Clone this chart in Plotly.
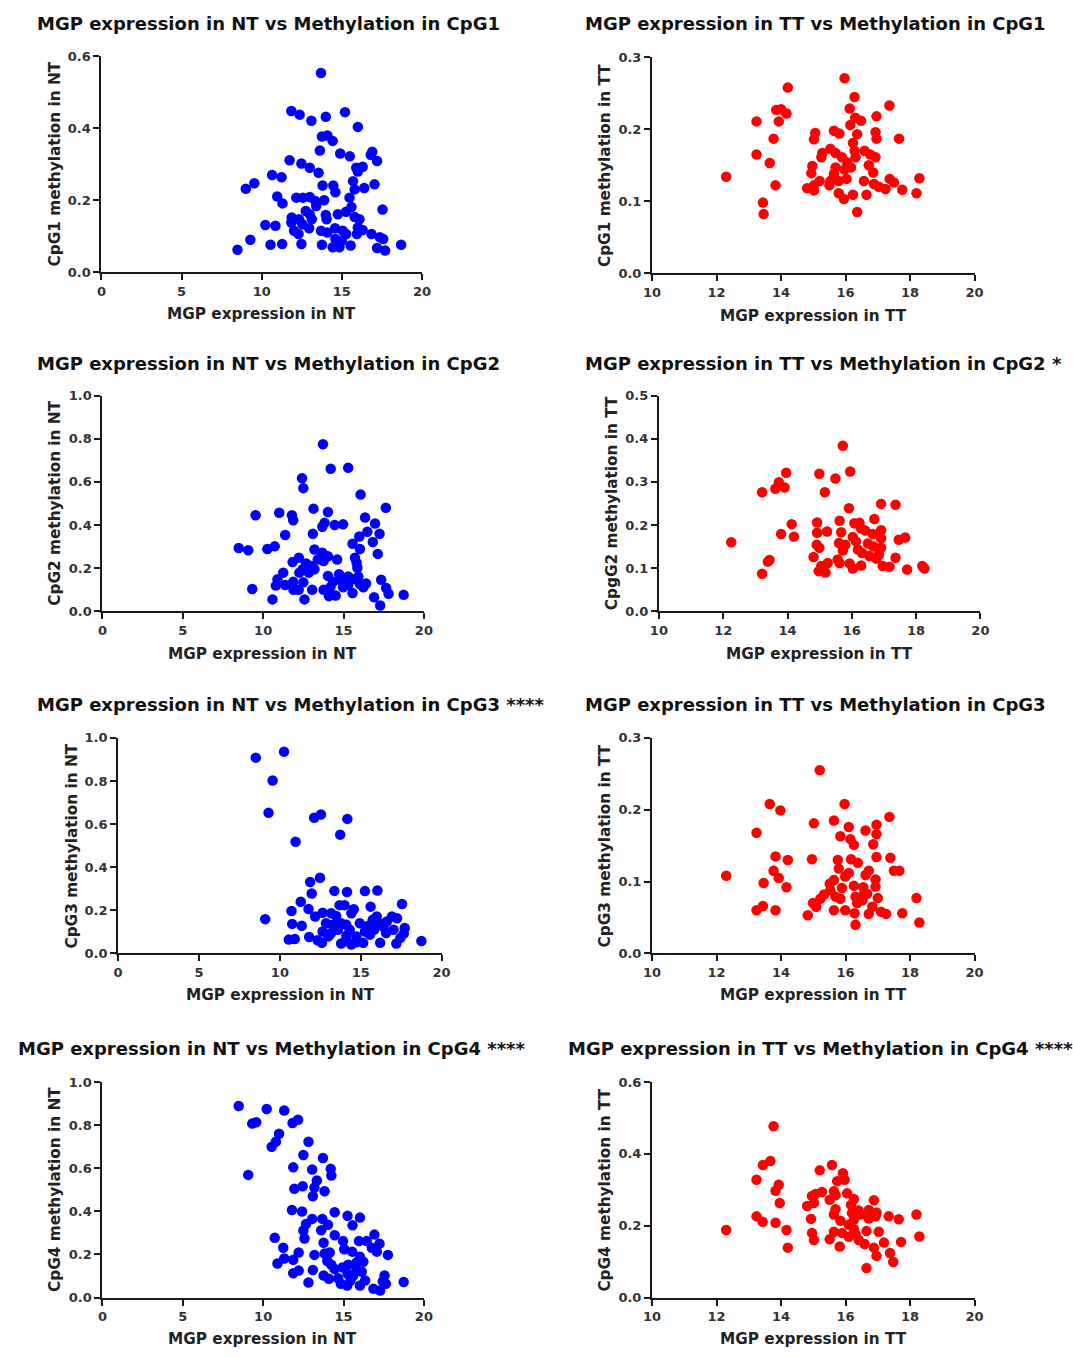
import plotly.graph_objects as go

W, H = 1073, 1357
BLUE = "#0000FF"
RED = "#FF0000"
FONT = "DejaVu Sans, Arial, sans-serif"

# ---------------- data ----------------
nt_cpg1_x = [13.70, 11.85, 12.37, 13.10, 14.00, 15.20, 16.00, 13.76, 14.10, 14.43, 13.63, 14.90, 15.50, 16.90,
             16.80, 17.20, 11.74, 12.48, 13.00, 13.55, 15.90, 16.30, 16.00, 10.65, 11.24, 9.01, 9.54, 13.80,
             14.47, 14.60, 15.70, 15.80, 16.40, 17.04, 10.97, 11.30, 12.16, 12.58, 13.00, 13.34, 13.90, 15.48,
             15.60, 13.40, 12.75, 13.00, 14.00, 14.05, 14.75, 15.27, 15.80, 16.10, 17.54, 11.87, 12.33, 12.54,
             13.13, 10.23, 10.86, 11.85, 12.02, 12.30, 12.96, 13.70, 14.10, 14.58, 15.06, 15.27, 16.00, 16.30,
             15.94, 16.85, 17.37, 17.58, 9.29, 8.49, 10.55, 11.28, 12.48, 13.76, 14.43, 14.85, 15.00, 15.55,
             17.20, 17.70, 18.70, 14.60]
nt_cpg1_y = [0.554, 0.448, 0.438, 0.421, 0.432, 0.445, 0.404, 0.377, 0.380, 0.365, 0.338, 0.330, 0.322, 0.335,
             0.326, 0.309, 0.311, 0.302, 0.290, 0.276, 0.290, 0.293, 0.280, 0.270, 0.264, 0.232, 0.247, 0.241,
             0.241, 0.222, 0.253, 0.230, 0.234, 0.244, 0.210, 0.191, 0.207, 0.207, 0.209, 0.198, 0.200, 0.207,
             0.181, 0.184, 0.170, 0.161, 0.159, 0.147, 0.161, 0.168, 0.153, 0.147, 0.174, 0.152, 0.147, 0.133,
             0.147, 0.131, 0.129, 0.138, 0.115, 0.106, 0.122, 0.115, 0.110, 0.122, 0.115, 0.106, 0.124, 0.117,
             0.106, 0.106, 0.097, 0.092, 0.090, 0.062, 0.076, 0.078, 0.078, 0.076, 0.069, 0.069, 0.087, 0.074,
             0.067, 0.060, 0.076, 0.092]

tt_cpg1_x = [12.30, 13.24, 13.24, 13.65, 13.44, 13.46, 13.77, 13.83, 13.85, 14.00, 13.93, 14.17, 14.21, 15.97,
             16.28, 17.36, 16.13, 16.30, 16.48, 16.96, 16.15, 15.64, 15.81, 16.36, 16.93, 16.96, 17.66, 15.06,
             15.02, 16.23, 15.28, 15.25, 15.53, 15.69, 15.89, 16.28, 16.59, 16.77, 16.93, 16.72, 16.31, 16.05,
             16.17, 15.97, 15.69, 15.64, 16.86, 14.97, 14.94, 15.53, 15.79, 16.03, 16.57, 15.20, 15.50, 15.02,
             14.81, 15.02, 16.88, 17.03, 17.24, 17.37, 17.50, 17.76, 18.29, 18.20, 15.79, 15.95, 16.23, 16.65,
             16.36]
tt_cpg1_y = [0.134, 0.211, 0.165, 0.153, 0.098, 0.082, 0.187, 0.122, 0.227, 0.228, 0.211, 0.222, 0.258, 0.271,
             0.245, 0.233, 0.229, 0.216, 0.212, 0.218, 0.206, 0.198, 0.194, 0.193, 0.196, 0.187, 0.187, 0.195,
             0.186, 0.181, 0.167, 0.161, 0.173, 0.167, 0.161, 0.170, 0.170, 0.165, 0.161, 0.150, 0.161, 0.154,
             0.147, 0.144, 0.147, 0.138, 0.140, 0.149, 0.139, 0.128, 0.128, 0.131, 0.128, 0.128, 0.122, 0.122,
             0.118, 0.115, 0.124, 0.120, 0.117, 0.131, 0.126, 0.116, 0.132, 0.111, 0.111, 0.103, 0.109, 0.109,
             0.085]

nt_cpg2_x = [13.72, 14.20, 15.29, 12.42, 12.50, 16.06, 9.53, 11.00, 11.79, 11.87, 13.13, 14.03, 17.63, 16.34,
             13.82, 13.68, 14.45, 14.97, 16.96, 16.48, 17.24, 13.09, 11.37, 15.98, 16.82, 15.56, 8.48, 9.07,
             10.26, 10.72, 13.19, 16.02, 17.13, 13.68, 14.03, 13.40, 13.76, 14.60, 15.71, 15.81, 12.22, 11.83,
             12.67, 12.98, 12.46, 12.25, 12.84, 13.19, 15.86, 11.25, 10.89, 14.03, 14.72, 15.29, 15.92, 14.35,
             14.87, 15.71, 17.34, 10.79, 11.37, 11.87, 12.50, 15.29, 16.02, 16.40, 9.32, 11.89, 12.21, 13.05,
             13.76, 14.18, 14.97, 15.56, 16.23, 17.65, 17.80, 18.74, 14.09, 14.51, 16.90, 10.58, 12.57, 17.28]
nt_cpg2_y = [0.775, 0.661, 0.666, 0.617, 0.571, 0.541, 0.445, 0.457, 0.445, 0.422, 0.476, 0.460, 0.480, 0.435,
             0.410, 0.392, 0.400, 0.403, 0.407, 0.369, 0.359, 0.359, 0.354, 0.347, 0.321, 0.313, 0.293, 0.283,
             0.289, 0.301, 0.286, 0.289, 0.266, 0.271, 0.255, 0.240, 0.233, 0.240, 0.248, 0.225, 0.248, 0.228,
             0.222, 0.210, 0.195, 0.179, 0.179, 0.195, 0.202, 0.179, 0.149, 0.164, 0.172, 0.161, 0.161, 0.137,
             0.141, 0.149, 0.146, 0.119, 0.122, 0.137, 0.134, 0.122, 0.126, 0.129, 0.103, 0.100, 0.100, 0.100,
             0.100, 0.111, 0.111, 0.085, 0.111, 0.108, 0.081, 0.076, 0.070, 0.073, 0.065, 0.055, 0.055, 0.027]

tt_cpg2_x = [15.72, 15.95, 13.96, 14.99, 15.49, 13.73, 13.91, 13.62, 13.21, 15.16, 16.91, 17.36, 15.91, 16.70,
             15.62, 14.92, 14.13, 16.08, 16.24, 16.29, 13.80, 14.20, 14.92, 15.23, 15.67, 16.03, 16.42, 16.65,
             16.91, 16.91, 17.66, 17.46, 12.25, 14.91, 14.99, 15.60, 15.80, 15.72, 16.13, 16.19, 16.50, 16.68,
             16.91, 16.32, 16.55, 16.76, 16.84, 13.44, 13.39, 14.81, 15.56, 15.62, 15.25, 15.93, 17.36, 16.29,
             16.03, 15.05, 14.97, 15.18, 13.21, 16.96, 17.17, 17.72, 18.19, 18.26]
tt_cpg2_y = [0.384, 0.324, 0.321, 0.319, 0.308, 0.299, 0.287, 0.284, 0.276, 0.276, 0.249, 0.247, 0.239, 0.214,
             0.210, 0.206, 0.202, 0.204, 0.205, 0.192, 0.179, 0.173, 0.182, 0.185, 0.183, 0.172, 0.187, 0.179,
             0.188, 0.169, 0.171, 0.166, 0.160, 0.154, 0.147, 0.158, 0.154, 0.141, 0.162, 0.143, 0.157, 0.150,
             0.147, 0.135, 0.128, 0.122, 0.131, 0.119, 0.115, 0.126, 0.120, 0.112, 0.112, 0.111, 0.124, 0.106,
             0.099, 0.105, 0.093, 0.090, 0.087, 0.105, 0.103, 0.097, 0.105, 0.099]

nt_cpg3_x = [8.51, 10.26, 9.55, 9.30, 12.12, 12.54, 14.17, 13.73, 10.97, 12.48, 11.87, 11.97, 13.37, 14.15,
             15.26, 16.03, 11.29, 10.72, 11.77, 13.69, 14.00, 14.57, 15.61, 17.55, 9.09, 10.76, 11.35, 12.18,
             12.64, 13.17, 13.48, 14.42, 15.99, 15.74, 16.93, 17.24, 12.85, 13.27, 13.79, 14.11, 14.94, 15.47,
             16.20, 16.61, 17.72, 12.64, 13.17, 13.58, 14.32, 15.26, 15.82, 16.41, 17.03, 13.00, 14.11, 14.73,
             15.57, 16.57, 17.66, 10.55, 10.92, 11.81, 12.33, 12.60, 13.79, 14.11, 14.42, 15.15, 16.20, 17.20,
             17.45, 18.75, 14.73]
nt_cpg3_y = [0.908, 0.936, 0.802, 0.652, 0.629, 0.644, 0.624, 0.551, 0.518, 0.351, 0.331, 0.278, 0.290, 0.285,
             0.289, 0.292, 0.240, 0.197, 0.206, 0.224, 0.224, 0.205, 0.217, 0.229, 0.159, 0.137, 0.128, 0.171,
             0.189, 0.186, 0.174, 0.186, 0.171, 0.156, 0.171, 0.163, 0.140, 0.133, 0.140, 0.133, 0.140, 0.128,
             0.137, 0.148, 0.118, 0.102, 0.095, 0.110, 0.110, 0.102, 0.110, 0.122, 0.110, 0.079, 0.082, 0.079,
             0.087, 0.095, 0.092, 0.064, 0.067, 0.076, 0.061, 0.049, 0.046, 0.061, 0.041, 0.049, 0.049, 0.046,
             0.072, 0.058, 0.052]

tt_cpg3_x = [15.20, 13.65, 15.97, 13.98, 17.36, 15.02, 15.64, 16.10, 16.96, 16.62, 13.24, 16.96, 15.84, 16.15,
             16.86, 16.26, 13.83, 14.21, 14.96, 15.76, 16.17, 16.38, 16.96, 17.39, 13.77, 15.79, 16.72, 17.50,
             17.67, 12.30, 13.93, 16.10, 15.99, 16.62, 16.93, 13.46, 14.17, 15.64, 15.51, 15.89, 16.26, 16.55,
             16.93, 15.33, 15.53, 15.69, 15.84, 16.31, 16.55, 16.67, 17.00, 18.20, 15.22, 14.99, 15.09, 16.36,
             16.52, 16.83, 13.44, 13.24, 13.83, 15.64, 15.99, 16.28, 16.72, 17.10, 17.26, 17.76, 14.83, 16.31,
             18.29]
tt_cpg3_y = [0.255, 0.208, 0.208, 0.199, 0.190, 0.181, 0.185, 0.176, 0.179, 0.171, 0.168, 0.166, 0.163, 0.159,
             0.152, 0.151, 0.135, 0.130, 0.131, 0.130, 0.131, 0.126, 0.134, 0.133, 0.115, 0.118, 0.115, 0.115,
             0.115, 0.108, 0.105, 0.112, 0.107, 0.109, 0.103, 0.098, 0.092, 0.102, 0.097, 0.091, 0.094, 0.092,
             0.093, 0.082, 0.088, 0.079, 0.076, 0.079, 0.081, 0.083, 0.077, 0.077, 0.076, 0.070, 0.065, 0.070,
             0.074, 0.065, 0.066, 0.060, 0.060, 0.060, 0.060, 0.056, 0.055, 0.058, 0.055, 0.056, 0.053, 0.040,
             0.043]

nt_cpg4_x = [8.48, 10.22, 11.31, 9.32, 9.57, 11.83, 12.17, 10.99, 10.79, 10.53, 12.82, 12.50, 13.72, 9.07,
             11.87, 13.05, 14.20, 14.24, 13.34, 13.19, 11.94, 12.46, 13.82, 13.09, 11.79, 12.42, 14.45, 15.25,
             16.02, 13.05, 13.68, 12.67, 14.03, 15.56, 12.50, 13.61, 14.45, 16.92, 12.57, 10.72, 13.76, 14.97,
             15.96, 16.44, 17.24, 16.76, 17.07, 11.25, 15.04, 15.54, 17.76, 12.21, 13.19, 13.82, 14.14, 11.31,
             11.87, 13.99, 16.02, 16.23, 10.89, 14.24, 15.29, 15.81, 14.45, 14.93, 15.81, 16.13, 13.09, 12.21,
             11.87, 13.76, 15.25, 15.60, 17.55, 14.09, 14.66, 15.43, 16.34, 17.44, 17.63, 12.82, 14.83, 15.23,
             16.02, 16.86, 17.28, 18.74]
nt_cpg4_y = [0.889, 0.875, 0.868, 0.807, 0.813, 0.810, 0.825, 0.760, 0.723, 0.700, 0.723, 0.661, 0.647, 0.569,
             0.604, 0.594, 0.597, 0.566, 0.543, 0.510, 0.505, 0.516, 0.493, 0.470, 0.406, 0.399, 0.396, 0.379,
             0.371, 0.365, 0.365, 0.341, 0.338, 0.335, 0.311, 0.312, 0.289, 0.292, 0.274, 0.277, 0.254, 0.262,
             0.262, 0.262, 0.250, 0.231, 0.213, 0.231, 0.224, 0.213, 0.198, 0.209, 0.198, 0.204, 0.209, 0.181,
             0.175, 0.170, 0.189, 0.166, 0.158, 0.152, 0.152, 0.163, 0.132, 0.140, 0.128, 0.120, 0.128, 0.125,
             0.113, 0.102, 0.110, 0.102, 0.102, 0.087, 0.090, 0.079, 0.079, 0.075, 0.064, 0.070, 0.064, 0.056,
             0.056, 0.041, 0.033, 0.072]

tt_cpg4_x = [12.30, 13.77, 13.44, 13.67, 13.24, 13.93, 13.83, 13.96, 13.24, 13.43, 13.83, 14.17, 14.21, 15.20,
             15.58, 15.92, 15.97, 15.74, 15.27, 15.64, 15.69, 16.05, 14.96, 15.07, 14.81, 15.02, 15.51, 16.26,
             16.88, 16.17, 15.69, 16.41, 16.72, 16.96, 15.64, 16.20, 16.46, 17.34, 18.20, 17.65, 14.93, 15.84,
             16.26, 16.10, 16.72, 16.93, 16.26, 15.64, 15.89, 14.96, 16.31, 16.65, 17.03, 15.02, 15.51, 16.10,
             16.41, 16.59, 17.19, 17.72, 18.29, 15.82, 16.88, 17.38, 16.96, 17.48, 16.65]
tt_cpg4_y = [0.188, 0.477, 0.369, 0.380, 0.328, 0.314, 0.297, 0.263, 0.226, 0.211, 0.208, 0.188, 0.139, 0.354,
             0.369, 0.346, 0.328, 0.324, 0.294, 0.296, 0.285, 0.290, 0.283, 0.288, 0.255, 0.263, 0.272, 0.274,
             0.271, 0.258, 0.246, 0.242, 0.244, 0.237, 0.231, 0.235, 0.231, 0.226, 0.231, 0.218, 0.219, 0.214,
             0.217, 0.203, 0.220, 0.226, 0.190, 0.183, 0.180, 0.180, 0.176, 0.185, 0.183, 0.160, 0.162, 0.169,
             0.160, 0.149, 0.153, 0.155, 0.170, 0.142, 0.139, 0.124, 0.116, 0.099, 0.082]

titles = [
    "MGP expression in NT vs Methylation in CpG1",
    "MGP expression in TT vs Methylation in CpG1",
    "MGP expression in NT vs Methylation in CpG2",
    "MGP expression in TT vs Methylation in CpG2 *",
    "MGP expression in NT vs Methylation in CpG3 ****",
    "MGP expression in TT vs Methylation in CpG3",
    "MGP expression in NT vs Methylation in CpG4 ****",
    "MGP expression in TT vs Methylation in CpG4 ****",
]
x_titles = ["MGP expression in NT", "MGP expression in TT"] * 4
y_titles = [
    "CpG1 methylation in NT", "CpG1 methylation in TT",
    "CpG2 methylation in NT", "CpgG2 methylation in TT",
    "CpG3 methylation in NT", "CpG3 methylation in TT",
    "CpG4 methylation in NT", "CpG4 methylation in TT",
]
series_x = [nt_cpg1_x, tt_cpg1_x, nt_cpg2_x, tt_cpg2_x, nt_cpg3_x, tt_cpg3_x, nt_cpg4_x, tt_cpg4_x]
series_y = [nt_cpg1_y, tt_cpg1_y, nt_cpg2_y, tt_cpg2_y, nt_cpg3_y, tt_cpg3_y, nt_cpg4_y, tt_cpg4_y]
colors = [BLUE, RED] * 4
x_ranges = [(0, 20, 5), (10, 20, 2)] * 4
y_ranges = [(0, 0.6, 0.2), (0, 0.3, 0.1), (0, 1.0, 0.2), (0, 0.5, 0.1),
            (0, 1.0, 0.2), (0, 0.3, 0.1), (0, 1.0, 0.2), (0, 0.6, 0.2)]

# ---------------- layout (pixel boxes: left, right, top, bottom) ----------------
boxes = [(94, 420, 50, 268), (654, 982, 51, 269),
         (95, 422, 393, 611), (661, 988, 393, 611),
         (111, 440, 739, 957), (654, 982, 739, 957),
         (95, 422, 1087, 1305), (654, 982, 1087, 1305)]
title_pos = [(26, 17), (584, 17), (26, 360), (584, 360),
             (26, 705), (584, 705), (7, 1053), (566, 1053)]
xt_pos = [(257, 310), (818, 312), (258, 654), (824, 654),
          (276, 999), (818, 999), (258, 1347), (818, 1347)]
yt_pos = [(47, 159), (606, 160), (47, 502), (614, 502),
          (64, 848), (606, 848), (47, 1196), (606, 1196)]


def px(x):
    return x / W


def py(y):
    return 1 - y / H


fig = go.Figure()
annotations = []
layout = {}
for i in range(8):
    k = "" if i == 0 else str(i + 1)
    fig.add_trace(go.Scatter(
        x=series_x[i], y=series_y[i], mode="markers",
        marker=dict(color=colors[i], size=10.5, line=dict(width=0)),
        xaxis="x" + k, yaxis="y" + k, cliponaxis=False, showlegend=False,
        hoverinfo="x+y",
    ))
    l, r, t, b = boxes[i]
    x0, x1, dx = x_ranges[i]
    y0, y1, dy = y_ranges[i]
    common = dict(showline=True, linecolor="#1a1a1a", linewidth=2, ticks="outside",
                  ticklen=6, tickwidth=2, tickcolor="#1a1a1a", showgrid=False, zeroline=False,
                  tickfont=dict(family=FONT, size=13, color="#333333", weight="bold"),
                  mirror=False, fixedrange=True)
    layout["xaxis" + k] = dict(domain=[px(l), px(r)], range=[x0, x1], tick0=x0, dtick=dx,
                               tickmode="linear", anchor="y" + k, tickformat="d", **common)
    layout["yaxis" + k] = dict(domain=[py(b), py(t)], range=[y0, y1], tick0=y0, dtick=dy,
                               tickmode="linear", anchor="x" + k, tickformat=".1f", **common)
    tx, ty = title_pos[i]
    annotations.append(dict(text="<b>" + titles[i] + "</b>", x=px(tx), y=py(ty), xref="paper",
                            yref="paper", xanchor="left", yanchor="middle", showarrow=False,
                            font=dict(family=FONT, size=18, color="#111111")))
    ax, ay = xt_pos[i]
    annotations.append(dict(text="<b>" + x_titles[i] + "</b>", x=px(ax), y=py(ay), xref="paper",
                            yref="paper", xanchor="center", yanchor="middle", showarrow=False,
                            font=dict(family=FONT, size=15.3, color="#222222")))
    bx, by = yt_pos[i]
    annotations.append(dict(text="<b>" + y_titles[i] + "</b>", x=px(bx), y=py(by), xref="paper",
                            yref="paper", xanchor="center", yanchor="middle", showarrow=False,
                            textangle=-90, font=dict(family=FONT, size=15.3, color="#222222")))

fig.update_layout(
    width=W, height=H, margin=dict(l=0, r=0, t=0, b=0),
    paper_bgcolor="white", plot_bgcolor="white",
    annotations=annotations, **layout,
)

fig.write_html("out.html")
